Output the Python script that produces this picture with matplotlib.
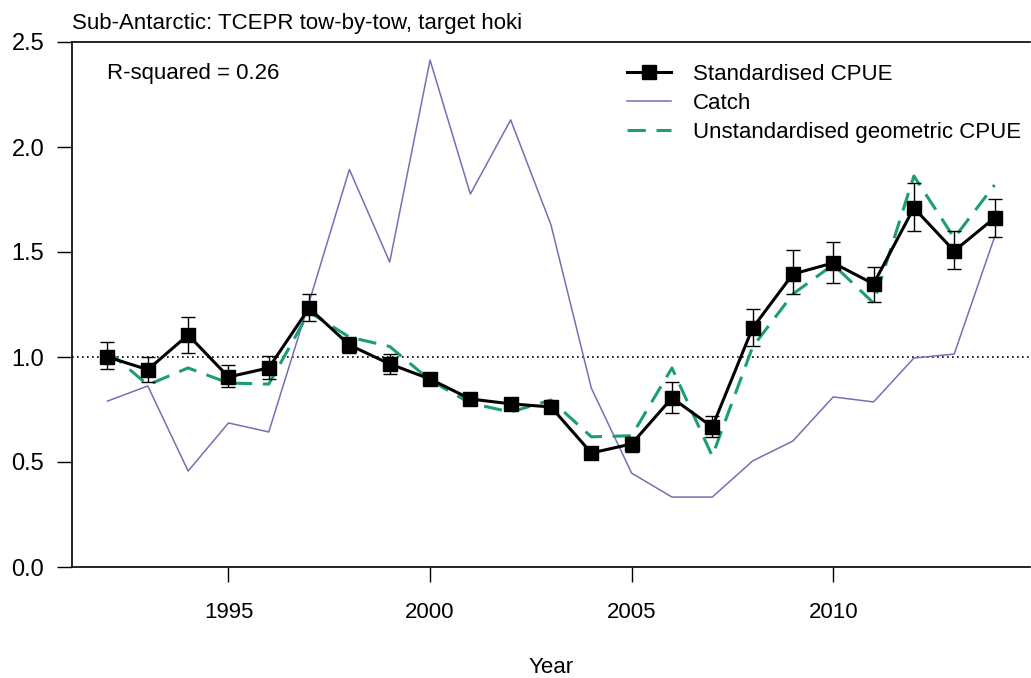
import numpy as np
import matplotlib.pyplot as plt

plt.rcParams['font.family'] = ['Liberation Sans', 'DejaVu Sans']

years = np.arange(1992, 2015)

# standardised CPUE index with lower / upper error limits
std_cpue = [1.00, 0.94, 1.105, 0.905, 0.948, 1.233, 1.057, 0.967, 0.895, 0.80, 0.777, 0.762,
            0.543, 0.586, 0.805, 0.667, 1.138, 1.395, 1.448, 1.348, 1.71, 1.505, 1.662]
std_lower = [0.943, 0.881, 1.019, 0.857, 0.895, 1.171, 1.019, 0.919, 0.87, 0.78, 0.76, 0.745,
             0.53, 0.548, 0.733, 0.619, 1.052, 1.30, 1.352, 1.262, 1.60, 1.419, 1.571]
std_upper = [1.071, 1.0, 1.19, 0.962, 1.005, 1.30, 1.095, 1.014, 0.92, 0.82, 0.795, 0.78,
             0.555, 0.62, 0.88, 0.719, 1.229, 1.51, 1.548, 1.43, 1.83, 1.60, 1.752]

catch = [0.79, 0.862, 0.457, 0.686, 0.643, 1.26, 1.893, 1.452, 2.414, 1.776, 2.129, 1.629,
         0.852, 0.447, 0.333, 0.333, 0.505, 0.60, 0.81, 0.786, 0.995, 1.014, 1.571]

unstd_cpue = [1.03, 0.867, 0.948, 0.876, 0.871, 1.214, 1.095, 1.05, 0.89, 0.78, 0.738, 0.795,
              0.62, 0.625, 0.948, 0.528, 1.048, 1.30, 1.44, 1.257, 1.862, 1.567, 1.819]

title = "Sub-Antarctic: TCEPR tow-by-tow, target hoki"
rsq_text = "R-squared = 0.26"

W, H = 1031, 678
fig = plt.figure(figsize=(W / 100, H / 100), dpi=100)
ax = fig.add_axes([72 / W, 111 / H, 958 / W, 525 / H])

std_cpue = np.array(std_cpue)
yerr = [std_cpue - np.array(std_lower), np.array(std_upper) - std_cpue]

ax.axhline(1.0, color='black', lw=1.2, ls=(0, (1, 2)), zorder=1)
ax.plot(years, catch, color='#7570b3', lw=1.1, label='Catch', zorder=2)
ax.plot(years, unstd_cpue, color='#1b9e77', lw=2.2, ls=(0, (6, 3.5)),
        label='Unstandardised geometric CPUE', zorder=3)
ax.errorbar(years, std_cpue, yerr=yerr, fmt='none', ecolor='black', elinewidth=1.0,
            capsize=5, capthick=1.0, zorder=4)
ax.plot(years, std_cpue, color='black', lw=2.2, marker='s', markersize=9.5,
        label='Standardised CPUE', zorder=5)

ax.set_xlim(1991.12, 2014.88)
ax.set_ylim(0, 2.5)
ax.set_xticks([1995, 2000, 2005, 2010])
ax.set_yticks([0.0, 0.5, 1.0, 1.5, 2.0, 2.5])
ax.set_yticklabels(['0.0', '0.5', '1.0', '1.5', '2.0', '2.5'])
ax.tick_params(axis='both', direction='out', length=11, width=1.0, labelsize=16)
ax.tick_params(axis='x', pad=14)
ax.tick_params(axis='y', pad=9, labelsize=17)
ax.spines['right'].set_visible(False)
for s in ['left', 'bottom', 'top']:
    ax.spines[s].set_linewidth(1.2)

ax.set_xlabel('Year', fontsize=16, labelpad=25)
fig.text(72 / W, 1 - 23 / H, title, fontsize=16, ha='left', va='center')
ax.text(107 / W, 1 - 73 / H, rsq_text, fontsize=16, ha='left', va='center',
        transform=fig.transFigure)

h, l = ax.get_legend_handles_labels()
order = [2, 0, 1]
ax.legend([h[i] for i in order], [l[i] for i in order], loc='upper left',
          bbox_to_anchor=(627 / W, 1 - 64 / H), bbox_transform=fig.transFigure,
          frameon=False, fontsize=16, handlelength=2.0, handletextpad=0.95,
          labelspacing=0.36, borderpad=0, borderaxespad=0, numpoints=1)

fig.savefig('out.png', dpi=100)
